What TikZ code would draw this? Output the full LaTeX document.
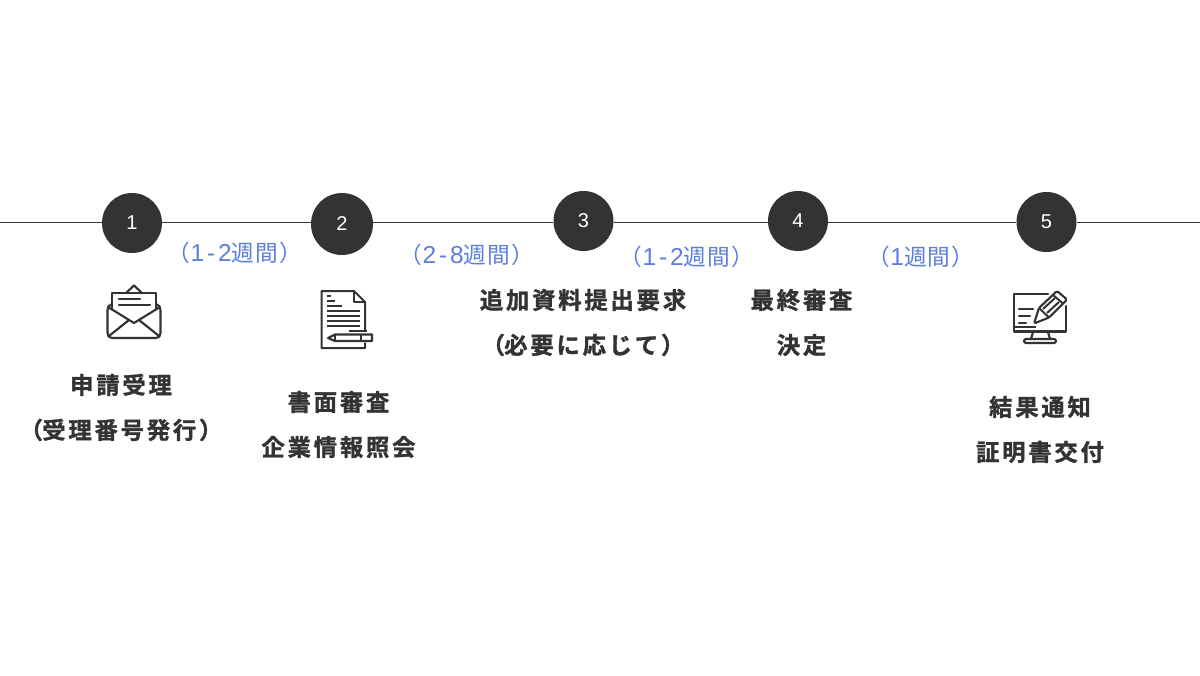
\documentclass[tikz,border=0pt]{standalone}
\usepackage{fontspec}
\newfontfamily\jpbold[LetterSpace=12,FakeBold=1.3]{Noto Sans CJK JP Bold}
\newfontfamily\jpreg[LetterSpace=5]{Noto Sans CJK JP}
\newfontfamily\numfont{Liberation Sans}
\newfontfamily\durnum[LetterSpace=12,Scale=1.08]{Liberation Sans}
\definecolor{ink}{HTML}{333333}
\definecolor{bluelab}{HTML}{5B7FDD}
\newlength{\pxu}\setlength{\pxu}{0.75pt}
\tikzset{
  stepdot/.style={circle,fill=ink,draw=none,inner sep=0pt,minimum size=60\pxu,text=white,font=\numfont\fontsize{15}{18}\selectfont},
  steplabel/.style={text=ink,align=center,inner sep=0pt,font=\jpbold\fontsize{17.5}{33.75}\selectfont},
  durlabel/.style={text=bluelab,inner sep=0pt,font=\jpreg\fontsize{17}{20}\selectfont},
  axisline/.style={draw=ink,line width=0.75pt},
  iconline/.style={draw=ink,line width=1.6pt,line join=round,line cap=round},
  iconthin/.style={draw=ink,line width=1.5pt,line join=round,line cap=butt},
}
\newcommand{\nm}[1]{{\durnum #1}}
\newcommand{\opn}{（\kern-0.5pt\relax}
\newcommand{\cls}{）}
\begin{document}
\begin{tikzpicture}[x=0.75pt,y=-0.75pt]
\useasboundingbox (0,0) rectangle (1200,675);
\fill[white] (0,0) rectangle (1200,675);
\coordinate (L) at (0,222);
\coordinate (R) at (1200,222);
\node[stepdot] (s1) at (132,223) {1};
\node[stepdot,minimum size=62\pxu] (s2) at (342,224) {2};
\node[stepdot] (s3) at (583.5,221) {3};
\node[stepdot] (s4) at (798,221) {4};
\node[stepdot] (s5) at (1046.5,222) {5};
\draw[axisline] (L) -- (s1.west |- L);
\draw[axisline] (s1.east |- L) -- (s2.west |- L);
\draw[axisline] (s2.east |- L) -- (s3.west |- L);
\draw[axisline] (s3.east |- L) -- (s4.west |- L);
\draw[axisline] (s4.east |- L) -- (s5.west |- L);
\draw[axisline] (s5.east |- L) -- (R);
\node[durlabel] (d1) at (235,253) {（\nm{1-2}週間）};
\node[durlabel] (d2) at (467,255) {（\nm{2-8}週間）};
\node[durlabel] (d3) at (687,257) {（\nm{1-2}週間）};
\node[durlabel] (d4) at (921,257) {（\nm{1}週間）};
\node[steplabel] (t1) at (121,407.5) {申請受理\\\opn 受理番号発行\cls};
\node[steplabel] (t2) at (338.5,424.5) {書面審査\\企業情報照会};
\node[steplabel] (t3) at (583,322.5) {追加資料提出要求\\\opn 必要に応じて\cls};
\node[steplabel] (t4) at (801.5,322.5) {最終審査\\決定};
\node[steplabel] (t5) at (1040,429.5) {結果通知\\証明書交付};
% envelope icon
\draw[iconline] (112,309) -- (112,293) -- (156,293) -- (156,309);
\draw[iconline] (126,293) -- (134,285.5) -- (142,293);
\draw[iconline] (112,304) .. controls (109,305) and (107.5,307) .. (107.5,310) -- (107.5,333) .. controls (107.5,336) and (109,338) .. (112,338) -- (156,338) .. controls (159,338) and (160.5,336) .. (160.5,333) -- (160.5,310) .. controls (160.5,307) and (159,305) .. (156,304);
\draw[iconline] (108,307) -- (134,323) -- (160,307);
\draw[iconline] (109,336) -- (129,320);
\draw[iconline] (159,336) -- (139,320);
\draw[iconline] (119,299) -- (140,299);
\draw[iconline] (119,305) -- (150,305);
% document icon
\draw[iconthin] (365,330) -- (365,302) -- (354,291) -- (321.5,291) -- (321.5,348) -- (365,348) -- (365,342.5);
\draw[iconthin] (354,291) -- (354,302) -- (365,302);
\foreach \yy/\xs/\xe in {296/327/331,300.5/327/335,306/327/342,311/327/360,316/327/360,321/327/360,326/327/360,331/349/367}
  \draw[iconthin] (\xs,\yy) -- (\xe,\yy);
\draw[iconline] (328,338) -- (335,334.5) -- (372,334.5) -- (372,341) -- (335,341) -- cycle;
\draw[iconthin] (361,334.5) -- (361,341);
\draw[iconthin] (335,334.5) -- (335,341);
% monitor and pencil icon
\draw[iconline] (1048,294) -- (1014,294) -- (1014,331.5) -- (1066,331.5) -- (1066,306);
\draw[iconthin] (1014,327) -- (1036,327);
\draw[iconline] (1019,309) -- (1033,309);
\draw[iconline] (1019,316) -- (1030,316);
\draw[iconline] (1019,323) -- (1026,323);
\draw[iconline] (1033,332) -- (1031,339);
\draw[iconline] (1048,332) -- (1050,339);
\draw[iconline,rounded corners=2\pxu] (1024,339) rectangle (1056,343);
\draw[iconline,rounded corners=1.5\pxu,fill=white] (1034,323.5) -- (1039,308) -- (1057,291) -- (1067,299.5) -- (1049,317.5) -- cycle;
\draw[iconthin] (1039,308) -- (1049,317.5);
\draw[iconthin] (1053,295) -- (1063,303.5);
\draw[iconthin] (1043,309) -- (1055,298);
\draw[iconthin] (1047,313) -- (1059,302);
\end{tikzpicture}
\end{document}
